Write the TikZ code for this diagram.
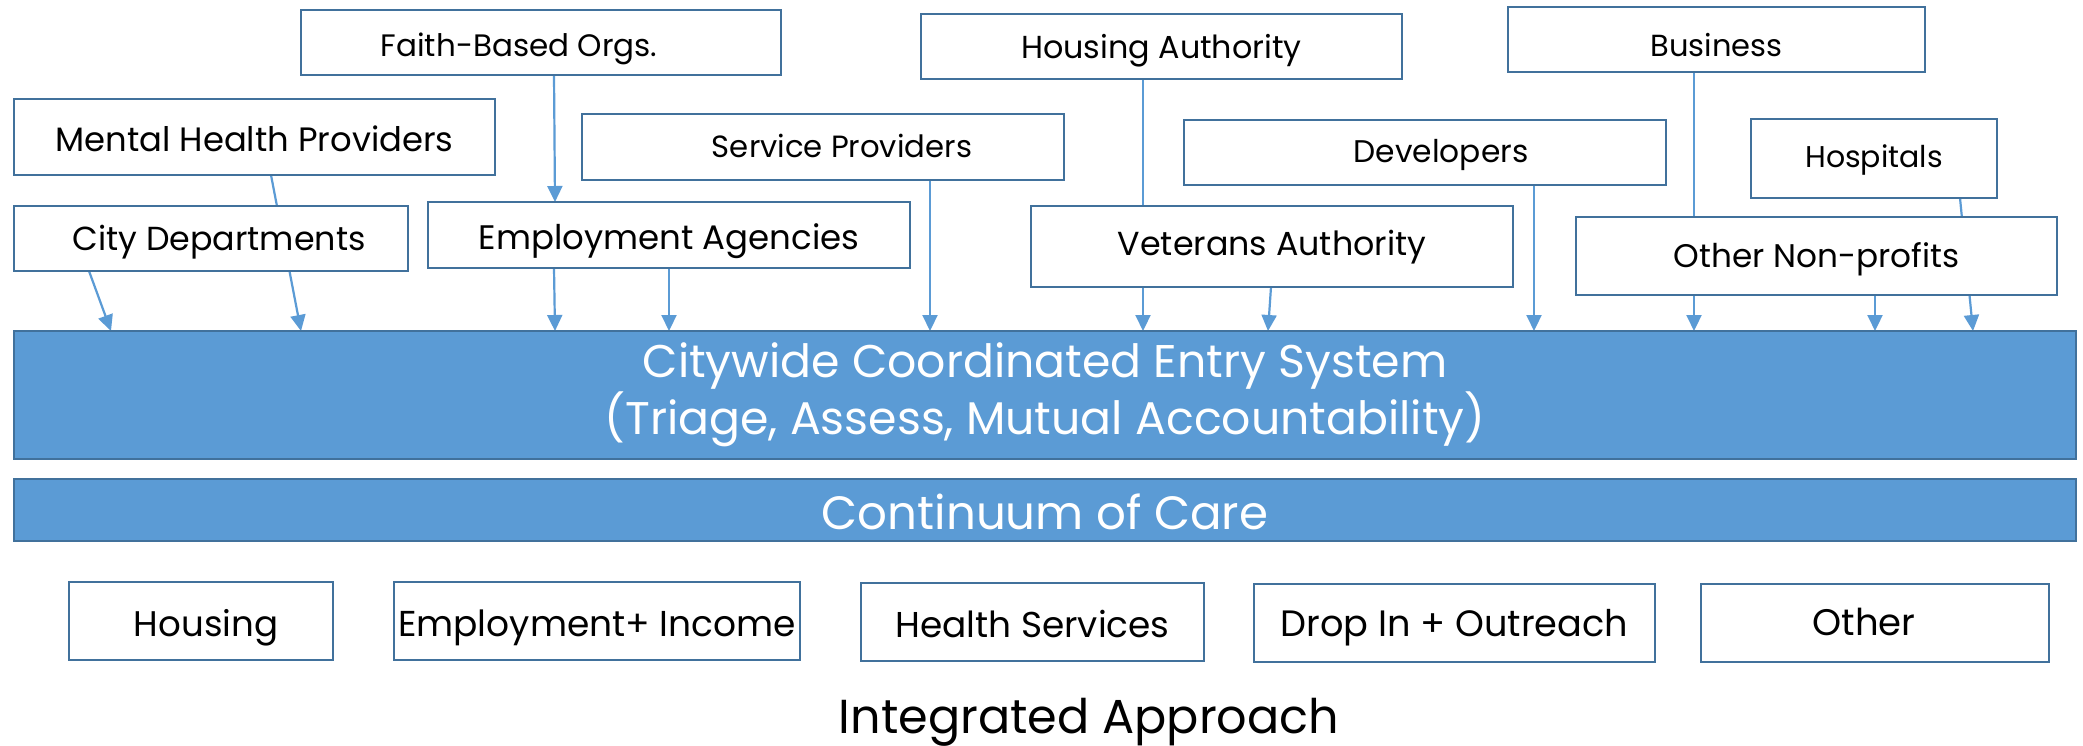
\documentclass[tikz,border=0pt]{standalone}
\usepackage{fontspec}
\setmainfont{Poppins}
\usetikzlibrary{arrows.meta,backgrounds}
\definecolor{barblue}{HTML}{5B9BD5}
\definecolor{edgeblue}{HTML}{41719C}
\newcommand{\fsz}[1]{\fontsize{#1}{#1}\selectfont}
\begin{document}
\begin{tikzpicture}[x=1pt,y=-1pt,
  box/.style={draw=edgeblue,line width=2.8pt,fill=white,inner sep=0pt,outer sep=0pt,
    font=\fsz{33},text=black,text depth=0pt,text height=25pt},
  lowbox/.style={box,font=\fsz{36},minimum height=78pt},
  bar/.style={draw=edgeblue,line width=2.8pt,fill=barblue,inner sep=0pt,outer sep=0pt,
    text=white,align=center,minimum width=2062pt},
  arr/.style={draw=barblue,line width=2.2pt,-{Triangle[length=16pt,width=15pt]}}]
\useasboundingbox (0,0) rectangle (2083,746);
% top boxes
\node[box,font=\fsz{31},text height=29pt,minimum width=480pt,minimum height=65pt] (faith) at (541,42.5) {Faith-Based Orgs.\hspace*{44pt}};
\node[box,font=\fsz{33.8},text height=30pt,minimum width=481pt,minimum height=76pt] (mh) at (254.5,137) {Mental Health Providers};
\node[box,font=\fsz{33.3},text height=25pt,minimum width=394pt,minimum height=65pt] (city) at (211,238.5) {\hspace*{16pt}City Departments};
\node[box,font=\fsz{34},text height=30pt,minimum width=482pt,minimum height=66pt] (emp) at (669,235) {Employment Agencies};
\node[box,font=\fsz{30.7},text height=22pt,minimum width=482pt,minimum height=66pt] (svc) at (823,147) {\hspace*{38pt}Service Providers};
\node[box,font=\fsz{31.8},text height=25pt,minimum width=481pt,minimum height=65pt] (ha) at (1161.5,46.5) {Housing Authority};
\node[box,font=\fsz{33.3},text height=17pt,minimum width=482pt,minimum height=81pt] (vet) at (1272,246.5) {Veterans Authority};
\node[box,font=\fsz{31.3},text height=21pt,minimum width=482pt,minimum height=65pt] (dev) at (1425,152.5) {\hspace*{32pt}Developers};
\node[box,font=\fsz{30.5},text height=35pt,minimum width=417pt,minimum height=65pt] (bus) at (1716.5,39.5) {Business};
\node[box,font=\fsz{30},text height=19pt,minimum width=246pt,minimum height=79pt] (hosp) at (1874,158.5) {Hospitals};
\node[box,font=\fsz{32.7},text height=22pt,minimum width=481pt,minimum height=78pt] (onp) at (1816.5,256) {Other Non-profits};
% bars
\node[bar,minimum height=128pt,font=\fontsize{45.8}{57}\selectfont] (ces) at (1045,395)
  {Citywide Coordinated Entry System\\(Triage, Assess, Mutual Accountability)};
\node[bar,minimum height=62pt,font=\fsz{46.7},text depth=0pt,text height=38pt] (coc) at (1045,510) {Continuum of Care};
% bottom boxes
\node[lowbox,font=\fsz{35.6},text height=30pt,minimum width=264pt] (housing) at (201,621) {\hspace*{10pt}Housing};
\node[lowbox,font=\fsz{36},text height=30pt,minimum width=406pt] (empinc) at (597,621) {Employment+ Income};
\node[lowbox,font=\fsz{35.9},text height=30pt,minimum width=343pt] (health) at (1032.5,622) {Health Services};
\node[lowbox,font=\fsz{36.7},text height=26pt,minimum width=401pt] (drop) at (1454.5,623) {Drop In + Outreach};
\node[lowbox,font=\fsz{37},text height=24pt,minimum width=348pt] (other) at (1875,623) {Other\hspace*{22pt}};
\node[font=\fsz{47.7},inner sep=0pt,anchor=base] (intapp) at (1089,733) {Integrated Approach};
% connectors
\begin{scope}[on background layer]
\fill[white] (0,0) rectangle (2083,746);
\draw[arr] (city.south -| 89,0) -- (ces.north -| 111,0);
\draw[arr] (mh.south -| 271,0) -- (ces.north -| 301,0);
\draw[arr] (faith.south -| 554,0) -- (emp.north -| 555,0);
\draw[arr] (emp.south -| 554,0) -- (ces.north -| 555,0);
\draw[arr] (emp.south -| 669,0) -- (ces.north -| 669,0);
\draw[arr] (svc.south -| 930,0) -- (ces.north -| 930,0);
\draw[arr] (ha.south -| 1143,0) -- (ces.north -| 1143,0);
\draw[arr] (vet.south -| 1271,0) -- (ces.north -| 1268,0);
\draw[arr] (dev.south -| 1534,0) -- (ces.north -| 1534,0);
\draw[arr] (bus.south -| 1694,0) -- (ces.north -| 1694,0);
\draw[arr] (onp.south -| 1875,0) -- (ces.north -| 1875,0);
\draw[arr] (hosp.south -| 1960,0) -- (ces.north -| 1973,0);
\end{scope}
\end{tikzpicture}
\end{document}
